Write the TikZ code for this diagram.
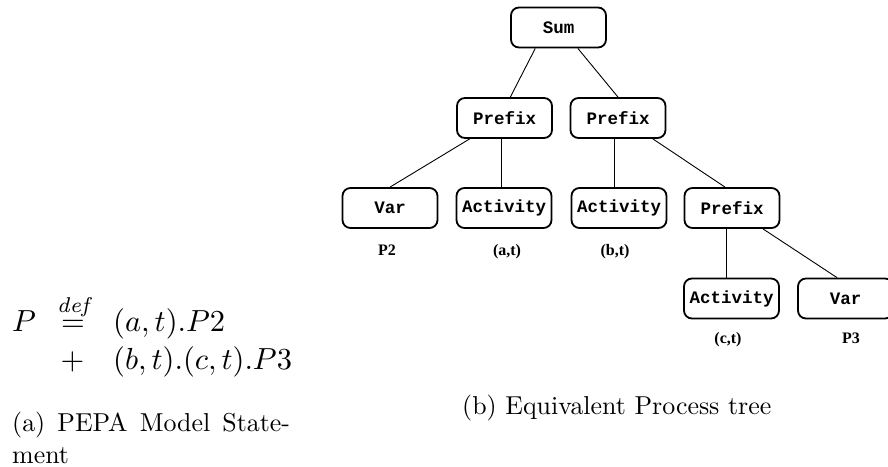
\documentclass[tikz,border=0pt]{standalone}
\usepackage{graphicx}
\usepackage{fontspec}
\newfontfamily\boxfont{Liberation Mono}
\newfontfamily\labfont{Liberation Serif}
\usetikzlibrary{calc}

% text set at 10pt and enlarged as a whole
\newcommand{\mbig}[1]{\scalebox{3.05}{$#1$}}
\newcommand{\cbig}[1]{\scalebox{2.59}{#1}}

\begin{document}
\begin{tikzpicture}[x=1pt,y=-1pt,
  tnode/.style={draw, line width=1.8pt, rounded corners=8pt,
    minimum width=95pt, minimum height=40pt, inner sep=0pt,
    font=\boxfont\bfseries\fontsize{17.5}{20}\selectfont},
  tlabel/.style={inner sep=0pt, anchor=base,
    font=\labfont\bfseries\fontsize{16}{19}\selectfont},
  edge/.style={line width=0.9pt},
  mathtxt/.style={inner sep=0pt, anchor=base west},
  captxt/.style={inner sep=0pt, anchor=base west}]
\useasboundingbox (0,0) rectangle (888,466);

% process tree
\node[tnode] (sum)  at (558.5,27.5) {Sum};
\node[tnode] (pr1)  at (504.5,118)  {Prefix};
\node[tnode] (pr2)  at (618,118)    {Prefix};
\node[tnode] (var1) at (390,208)    {Var};
\node[tnode] (act1) at (504,208)    {Activity};
\node[tnode] (act2) at (619,208)    {Activity};
\node[tnode] (pr3)  at (732,208)    {Prefix};
\node[tnode] (act3) at (731.5,298.5){Activity};
\node[tnode] (var2) at (845.5,298.5){Var};

\draw[edge] ($(sum.south west)!0.26!(sum.south east)$) -- ($(pr1.north west)!0.56!(pr1.north east)$);
\draw[edge] ($(sum.south west)!0.70!(sum.south east)$) -- (pr2.north);
\draw[edge] ($(pr1.south west)!0.14!(pr1.south east)$) -- (var1.north);
\draw[edge] ([xshift=-3.5pt]pr1.south) -- ([xshift=-3.5pt]pr1.south |- act1.north);
\draw[edge] ([xshift=-4pt]pr2.south) -- ([xshift=-4pt]pr2.south |- act2.north);
\draw[edge] ($(pr2.south west)!0.86!(pr2.south east)$) -- ([xshift=-7pt]pr3.north);
\draw[edge] ([xshift=-6pt]pr3.south) -- ([xshift=-6pt]pr3.south |- act3.north);
\draw[edge] ($(pr3.south west)!0.82!(pr3.south east)$) -- ([xshift=-8.5pt]var2.north);

% leaf labels
\node[tlabel] (lp2) at (387,255) {P2};
\node[tlabel] (lat) at (507,255) {(a,t)};
\node[tlabel] (lbt) at (615,255) {(b,t)};
\node[tlabel] (lct) at (728,343) {(c,t)};
\node[tlabel] (lp3) at (851,343) {P3};

% model statement
\node[mathtxt] (lhs) at (12,331) {\mbig{P}};
\node[mathtxt, anchor=base] (defeq) at (73,331) {\mbig{\stackrel{\mathit{def}}{=}}};
\node[mathtxt] (rhs1) at (113,331) {\mbig{(a,t).P2}};
\node[mathtxt, anchor=base] (plus) at (72.5,369) {\mbig{+}};
\node[mathtxt] (rhs2) at (113,369) {\mbig{(b,t).(c,t).P3}};

% captions
\node[captxt] (capa1) at (12,431) {\cbig{\makebox[107.3pt][s]{(a) PEPA Model State-}}};
\node[captxt] (capa2) at (12,463) {\cbig{ment}};
\node[captxt] (capb) at (462,414) {\cbig{(b) Equivalent Process tree}};
\end{tikzpicture}
\end{document}
